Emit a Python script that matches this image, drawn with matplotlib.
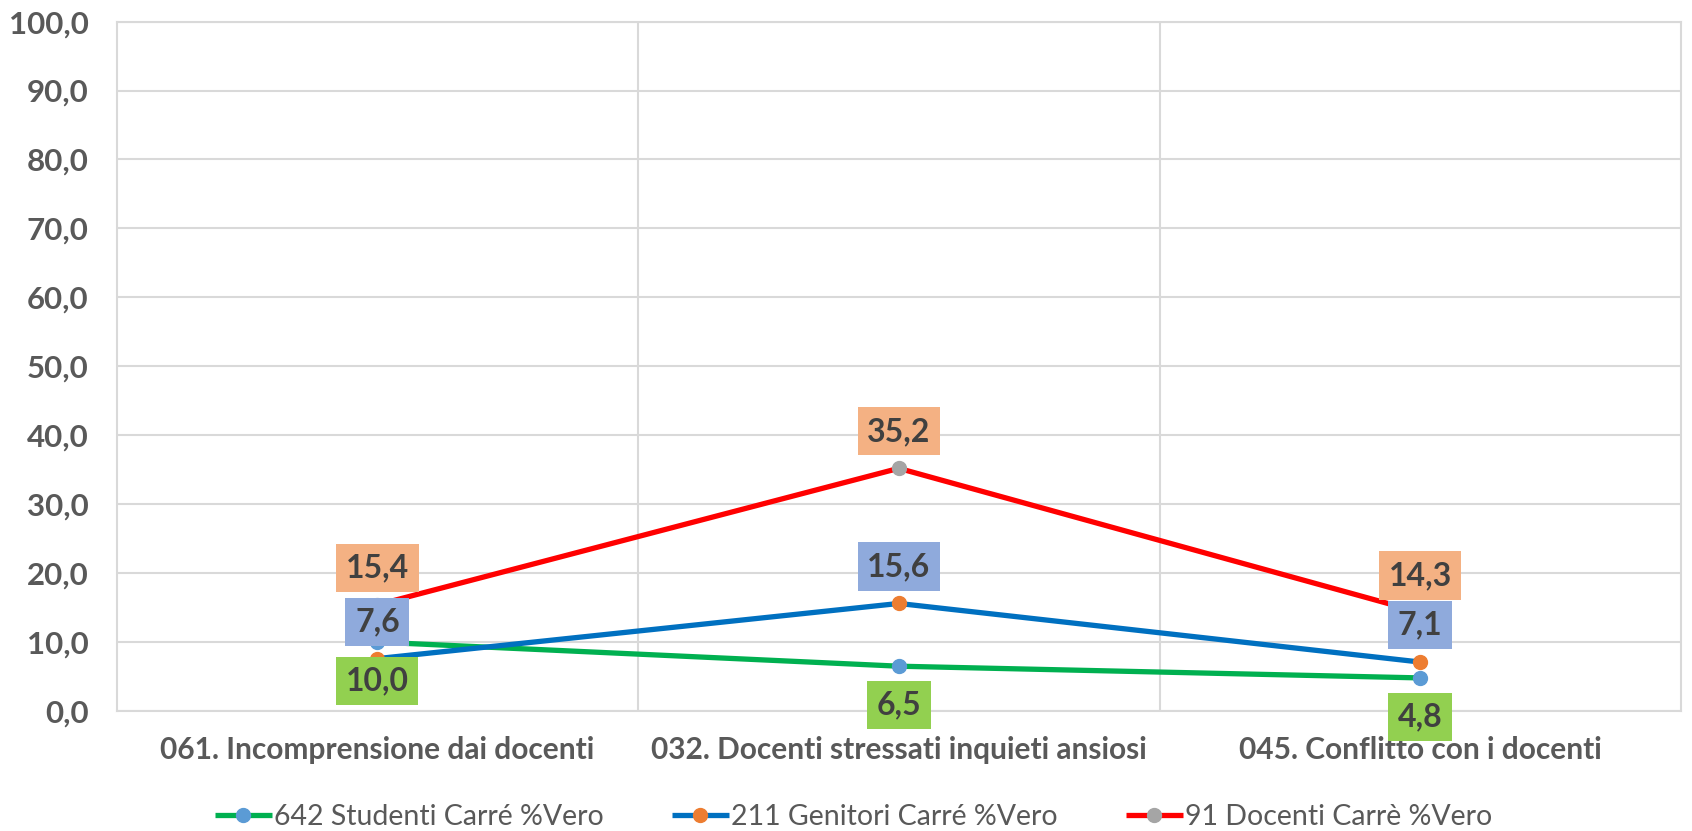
import matplotlib

matplotlib.use("Agg")
import matplotlib.pyplot as plt

CATEGORIES = [
    "061. Incomprensione dai docenti",
    "032. Docenti stressati inquieti ansiosi",
    "045. Conflitto con i docenti",
]
STUDENTI = [10.0, 6.5, 4.8]
GENITORI = [7.6, 15.6, 7.1]
DOCENTI = [15.4, 35.2, 14.3]

SERIES = [
    ("642 Studenti Carré %Vero", STUDENTI, "#00B050", "#5B9BD5", "#92D050", -39),
    ("211 Genitori Carré %Vero", GENITORI, "#0070C0", "#ED7D31", "#8FAADC", 37),
    ("91 Docenti Carrè %Vero", DOCENTI, "#FF0000", "#A5A5A5", "#F4B183", 37),
]

plt.rcParams["font.family"] = ["Lato", "DejaVu Sans"]
TEXT = "#595959"

fig = plt.figure(figsize=(16.92, 8.31), dpi=100)
ax = fig.add_axes([0.0689, 0.1444, 0.9246, 0.8296])

x = list(range(len(CATEGORIES)))
for name, values, line_color, marker_color, box_color, offset in SERIES:
    ax.plot(x, values, color=line_color, linewidth=3.8, marker="o", markersize=10,
            markerfacecolor=marker_color, markeredgecolor=marker_color,
            label=name, zorder=3, solid_capstyle="butt")
    for xi, v in zip(x, values):
        ax.annotate(f"{v:.1f}".replace(".", ","), (xi, v), textcoords="offset pixels",
                    xytext=(0, offset), ha="center", va="center", fontsize=23,
                    fontweight="bold", color="#404040", zorder=5,
                    bbox=dict(boxstyle="square,pad=0.3", facecolor=box_color,
                              edgecolor="none"))

ax.set_xlim(-0.5, 2.5)
ax.set_ylim(0, 100)
ax.set_yticks(range(0, 101, 10))
ax.set_yticklabels([f"{v:.1f}".replace(".", ",") for v in range(0, 101, 10)])
ax.set_xticks(x)
ax.set_xticklabels(CATEGORIES)
ax.set_xticks([0.5, 1.5], minor=True)
ax.tick_params(axis="both", which="both", length=0, labelcolor=TEXT)
ax.tick_params(axis="x", pad=18, labelsize=21.5)
ax.tick_params(axis="y", pad=20, labelsize=22.5)
for lbl in ax.get_xticklabels() + ax.get_yticklabels():
    lbl.set_fontweight("bold")

ax.grid(axis="y", color="#D9D9D9", linewidth=1.5)
ax.grid(axis="x", which="minor", color="#D9D9D9", linewidth=1.5)
ax.set_axisbelow(True)
for side in ["top", "right", "left", "bottom"]:
    ax.spines[side].set_color("#D9D9D9")
    ax.spines[side].set_linewidth(1.5)

ax.legend(loc="center", bbox_to_anchor=(0.471, -0.154), ncol=3, frameon=False,
          fontsize=20.5, labelcolor=TEXT, handlelength=2.0, columnspacing=2.4,
          handletextpad=0.07)

fig.savefig("out.png", dpi=100)
